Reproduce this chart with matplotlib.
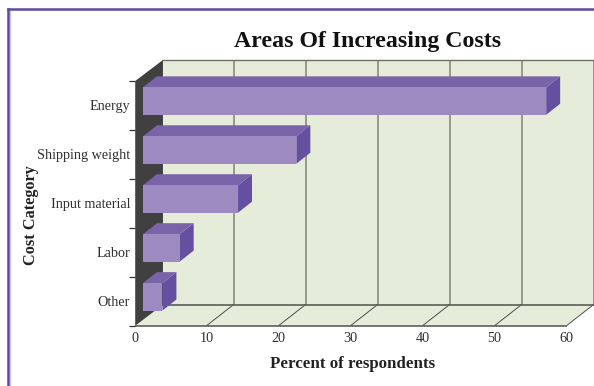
#!/usr/bin/env python3
"""Pseudo-3D bar chart: areas of increasing costs."""

import matplotlib

matplotlib.use("Agg")

import matplotlib.pyplot as plt
from matplotlib.patches import Polygon

categories = ["Other", "Labor", "Input material", "Shipping weight", "Energy"]
percent = [2.7, 5.1, 13.2, 21.3, 56.0]
x_ticks = [0, 10, 20, 30, 40, 50, 60]

WIDTH, HEIGHT = 594, 386
# depth of the box and of the bars, in axis units
BOX_DX, BOX_DY = 3.75, 0.43
BAR_DX, BAR_DY = 1.94, 0.225
BAR_X0, BAR_Y0, BAR_H = 1.18, 0.31, 0.56

plt.rcParams["font.family"] = ["Liberation Serif", "DejaVu Serif"]

fig = plt.figure(figsize=(WIDTH / 100, HEIGHT / 100), dpi=100)
ax = fig.add_axes([134.5 / WIDTH, 1 - 325.7 / HEIGHT, 432 / WIDTH, 244.7 / HEIGHT])
ax.set_xlim(0, 60)
ax.set_ylim(0, len(categories))
ax.patch.set_visible(False)
for spine in ax.spines.values():
    spine.set_visible(False)


def poly(points, face, z=1):
    ax.add_patch(Polygon(points, closed=True, facecolor=face, edgecolor="none",
                         linewidth=0, zorder=z, clip_on=False))


def seg(xs, ys, color, lw, z=2):
    ax.plot(xs, ys, color=color, linewidth=lw, zorder=z, clip_on=False,
            solid_capstyle="butt")


x_max = x_ticks[-1]
y_max = len(categories)

# back wall, floor, left wall
poly([(BOX_DX, BOX_DY), (x_max + BOX_DX, BOX_DY), (x_max + BOX_DX, y_max + BOX_DY),
      (BOX_DX, y_max + BOX_DY)], "#e6ecda")
poly([(0, 0), (x_max, 0), (x_max + BOX_DX, BOX_DY), (BOX_DX, BOX_DY)], "#e6ecda")
poly([(0.1, 0), (BOX_DX + 0.2, BOX_DY), (BOX_DX + 0.2, y_max + BOX_DY), (0.1, y_max)],
     "#404040", z=2)

# grid on the back wall and floor
for tick in x_ticks[1:]:
    seg([tick + BOX_DX] * 2, [BOX_DY, y_max + BOX_DY], "#7f8278", 1.1)
    seg([tick, tick + BOX_DX], [0, BOX_DY], "#50524c", 0.7)
seg([BOX_DX, x_max + BOX_DX], [y_max + BOX_DY] * 2, "#6e706a", 1.0)
seg([BOX_DX, x_max + BOX_DX], [BOX_DY] * 2, "#50524c", 1.1)
seg([0, x_max], [0, 0], "#50524c", 1.1, z=3)

# category ticks
for i in range(y_max + 1):
    seg([-0.8, 0.1], [i, i], "#303030", 0.9, z=3)

ax.set_xticks(x_ticks)
ax.set_xticklabels([str(t) for t in x_ticks], fontsize=10.2, color="#303030")
ax.set_yticks([i + 0.5 for i in range(y_max)])
ax.set_yticklabels(categories, fontsize=10.2, color="#303030")
ax.tick_params(axis="x", length=0, pad=4.5)
ax.tick_params(axis="y", length=0, pad=3.2)

# bars, drawn back to front
for i in range(y_max - 1, -1, -1):
    x0, x1 = BAR_X0, BAR_X0 + percent[i]
    y0, y1 = i + BAR_Y0, i + BAR_Y0 + BAR_H
    poly([(x1, y0), (x1 + BAR_DX, y0 + BAR_DY), (x1 + BAR_DX, y1 + BAR_DY), (x1, y1)],
         "#654fa0", z=4)
    poly([(x0, y1), (x1, y1), (x1 + BAR_DX, y1 + BAR_DY), (x0 + BAR_DX, y1 + BAR_DY)],
         "#7a63a8", z=4)
    poly([(x0, y0), (x1, y0), (x1, y1), (x0, y1)], "#9d8ac1", z=5)

fig.text(367.5 / WIDTH, 1 - 41.5 / HEIGHT, "Areas Of Increasing Costs", fontsize=17.2,
         fontweight="bold", ha="center", va="center", color="#111111")
fig.text(353 / WIDTH, 1 - 364 / HEIGHT, "Percent of respondents", fontsize=12.2,
         fontweight="bold", ha="center", va="center", color="#222222")
fig.text(31 / WIDTH, 1 - 215 / HEIGHT, "Cost Category", fontsize=11.7,
         fontweight="bold", rotation=90, ha="center", va="center", color="#222222")

# page frame: top and left rules only, with a pale inner edge on the left
fig.add_artist(plt.Line2D([9.6 / WIDTH] * 2, [0, 1 - 10 / HEIGHT], color="#c9bfe2", linewidth=0.8))
fig.add_artist(plt.Line2D([7.8 / WIDTH, 1], [1 - 8.5 / HEIGHT] * 2, color="#5f4a9c", linewidth=1.8))
fig.add_artist(plt.Line2D([7.8 / WIDTH] * 2, [0, 1 - 8.5 / HEIGHT], color="#5f4a9c", linewidth=1.8))

fig.savefig("out.png", dpi=100)
